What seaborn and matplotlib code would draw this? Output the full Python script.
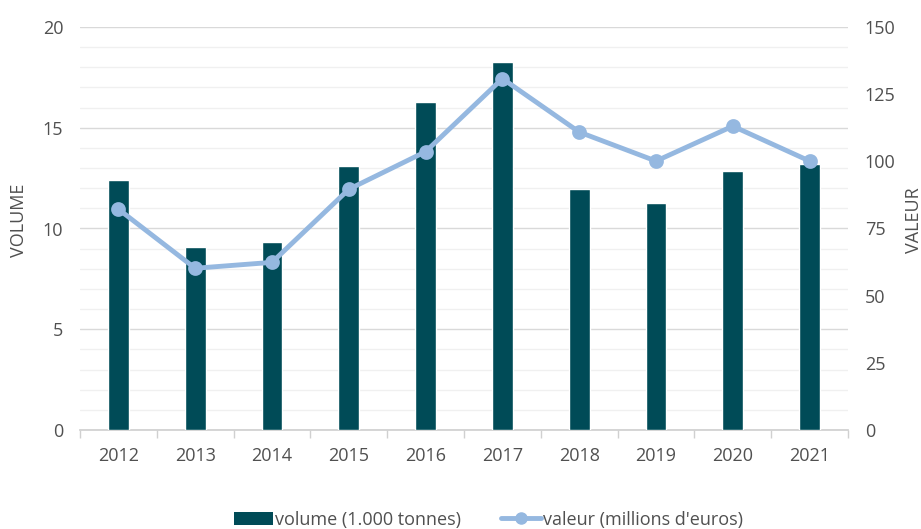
import matplotlib
matplotlib.use("Agg")
import matplotlib.pyplot as plt
import seaborn as sns
import pandas as pd
import numpy as np
from matplotlib.patches import Patch
from matplotlib.lines import Line2D

years = ["2012", "2013", "2014", "2015", "2016", "2017", "2018", "2019", "2020", "2021"]
volume = [12.4, 9.08, 9.33, 13.09, 16.27, 18.28, 11.95, 11.28, 12.84, 13.19]
valeur = [82.2, 60.2, 62.4, 89.6, 103.6, 130.8, 110.9, 100.1, 113.1, 100.1]
left_ticks = [0, 5, 10, 15, 20]
right_ticks = [0, 25, 50, 75, 100, 125, 150]
label_volume = "volume (1.000 tonnes)"
label_valeur = "valeur (millions d'euros)"

bar_color = "#004b57"
line_color = "#95b8e0"
text_color = "#505050"

sns.set_theme(style="white")
plt.rcParams['font.family'] = ['Open Sans', 'DejaVu Sans']
plt.rcParams['font.size'] = 13

df = pd.DataFrame({"year": years, "volume": volume, "valeur": valeur})

fig = plt.figure(figsize=(9.21, 5.29), dpi=100)
ax = fig.add_axes([80/921, 1-430/529, (848-80)/921, (430-27)/529])

sns.barplot(data=df, x="year", y="volume", color=bar_color, width=0.27,
            saturation=1, ax=ax, zorder=3)
ax.set_ylim(0, 20)
ax.set_xlim(-0.5, len(years) - 0.5)
ax.set_yticks(left_ticks)
ax.set_yticks(np.arange(0, 21, 1), minor=True)
ax.yaxis.grid(True, which="major", color="#d9d9d9", linewidth=1.0, zorder=0)
ax.yaxis.grid(True, which="minor", color="#f0f0f0", linewidth=1.0, zorder=0)
ax.set_axisbelow(True)
ax.set_xticks(np.arange(-0.5, len(years), 1), minor=True)
ax.tick_params(axis="x", which="major", length=0, pad=12, labelcolor=text_color, labelsize=13)
ax.tick_params(axis="x", which="minor", length=6, color="#d0d0d0", width=1, bottom=True)
ax.tick_params(axis="y", which="both", length=0, pad=12, labelcolor=text_color, labelsize=13)
for s in ["top", "right", "left"]:
    ax.spines[s].set_visible(False)
ax.spines["bottom"].set_color("#d0d0d0")
ax.set_xlabel("")
ax.set_ylabel("VOLUME", color=text_color, fontsize=13, va="center")
ax.yaxis.set_label_coords(-0.08, 0.52)

ax2 = ax.twinx()
sns.pointplot(data=df, x="year", y="valeur", color=line_color, markers="o",
              markersize=8, linewidth=3.5, ax=ax2, native_scale=False)
ax2.set_ylim(0, 150)
ax2.set_xlim(-0.5, len(years) - 0.5)
ax2.set_yticks(right_ticks)
ax2.tick_params(axis="y", length=0, pad=12, labelcolor=text_color, labelsize=13)
for s in ["top", "right", "left", "bottom"]:
    ax2.spines[s].set_visible(False)
ax2.grid(False)
ax2.set_ylabel("VALEUR", color=text_color, fontsize=13, rotation=90, va="center")
ax2.yaxis.set_label_position("right")
ax2.yaxis.set_label_coords(1.074, 0.52)

handles = [Patch(facecolor=bar_color, edgecolor="none"),
           Line2D([0], [0], color=line_color, linewidth=3.5, marker="o", markersize=8)]
fig.legend(handles, [label_volume, label_valeur], loc="lower center",
           bbox_to_anchor=(0.53, -0.03), ncol=2, frameon=False, handlelength=2.2,
           handletextpad=0.1, columnspacing=2.2, fontsize=13, labelcolor=text_color)

fig.savefig("out.png", dpi=100)
